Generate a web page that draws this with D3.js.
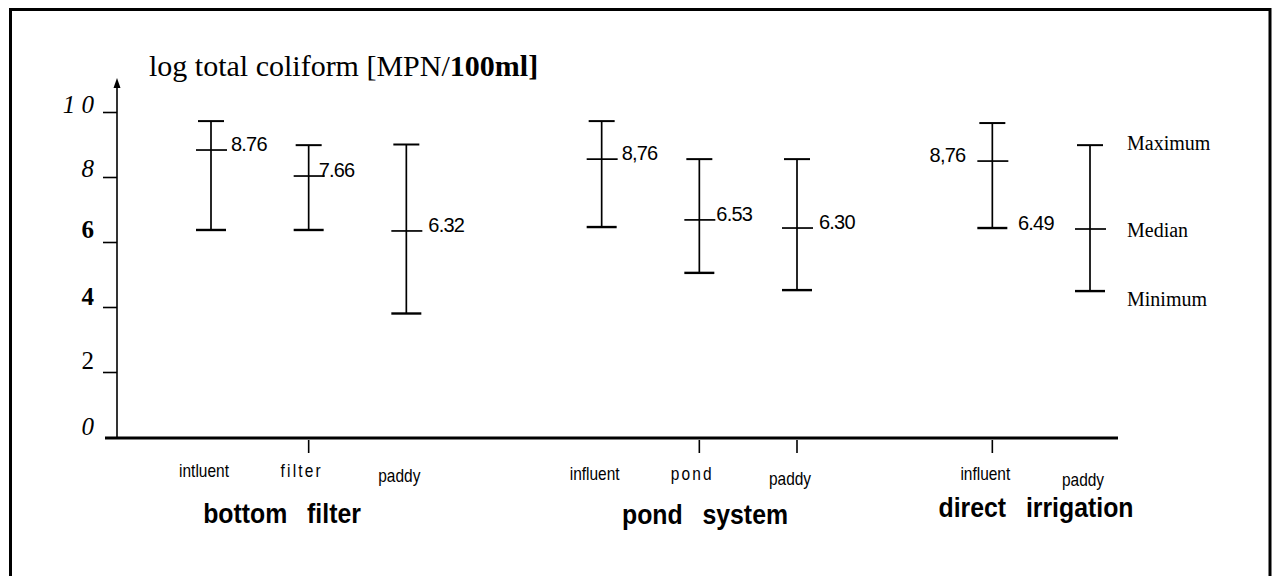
<!DOCTYPE html>
<html>
<head>
<meta charset="utf-8">
<script src="https://cdn.jsdelivr.net/npm/d3@7/dist/d3.min.js"></script>
<style>
  body { margin: 0; background: #fff; }
  svg  { display: block; }
</style>
</head>
<body>
<div id="chart"></div>
<script>
// groups and their sampling points
var groups     = ["bottom filter", "pond system", "direct irrigation"];
var categories = [["intluent", "filter", "paddy"], ["influent", "pond", "paddy"], ["influent", "paddy"]];

// log total coliform
var maxValues    = [9.72, 8.98, 9.00, 9.72, 8.55, 8.55, 9.66, 8.98];
var medianValues = [8.83, 8.03, 6.34, 8.55, 6.68, 6.43, 8.49, 6.40];
var minValues    = [6.37, 6.37, 3.80, 6.46, 5.05, 4.52, 6.43, 4.49];
var medianLabels = ["8.76", "7.66", "6.32", "8,76", "6.53", "6.30", "8,76", "6.49"];

var yTicks      = [0, 2, 4, 6, 8, 10];
var yTickLabels = ["0", "2", "4", "6", "8", "1 0"];
var legendItems = ["Maximum", "Median", "Minimum"];

var width  = 1273;
var height = 576;

// layout tweaks for the labels
var labelDx   = [20, 10, 22, 20, 17, 22, -27, -72];
var catDy     = [40, 40, 45, 43, 43, 48, 43, 49];
var groupX    = [282, 705, 1036];
var groupY    = [523, 524, 517];
var yLabelDy  = [-2, -3, -2, -4, 0, 1];
var legendDy  = [5, 8, 15];

var svg = d3.select("#chart").append("svg").attr("width", width).attr("height", height);

// frame (bottom edge runs off the page)
svg.append("path")
  .attr("d", "M10.5,580 V9.5 H1270 V580")
  .attr("fill", "none").attr("stroke", "#000").attr("stroke-width", 3);

// flatten the items, one slot gap between groups
var items = [];
categories.forEach(function (cats, g)
{
  cats.forEach(function (c, i)
  {
    items.push({ name: c, group: g, slot: g*4 + i });
  });
});
items.forEach(function (d, k)
{
  d.max    = maxValues[k];
  d.median = medianValues[k];
  d.min    = minValues[k];
  d.label  = medianLabels[k];
});

var x = d3.scaleLinear().domain([0, 9]).range([211, 1090]);
var y = d3.scaleLinear().domain([0, 10]).range([437, 112]);

// y axis with arrow head
svg.append("line")
  .attr("x1", 117).attr("x2", 117).attr("y1", y(0) + 2).attr("y2", 86)
  .attr("stroke", "#000").attr("stroke-width", 1.6);
svg.append("path").attr("d", "M113.5,88 L117,78 L120.5,88 Z").attr("fill", "#000");

var yAxis = d3.axisLeft(y).tickValues(yTicks.slice(1)).tickSize(14).tickFormat("");
svg.append("g").attr("transform", "translate(117,0)").call(yAxis)
  .call(function (g) { g.select(".domain").remove(); })
  .selectAll("line").attr("stroke-width", 1.6);

svg.selectAll(".ylab").data(yTicks).enter().append("text")
  .attr("class", "ylab")
  .attr("x", 94)
  .attr("y", function (d, i) { return y(d) + yLabelDy[i]; })
  .attr("text-anchor", "end")
  .attr("font-family", "Liberation Serif, serif")
  .attr("font-size", 25)
  .attr("font-style", function (d) { return (d == 0 || d >= 8) ? "italic" : "normal"; })
  .attr("font-weight", function (d) { return (d == 4 || d == 6) ? "bold" : "normal"; })
  .text(function (d, i) { return yTickLabels[i]; });

// title
var title = svg.append("text")
  .attr("x", 149).attr("y", 76)
  .attr("font-family", "Liberation Serif, serif")
  .attr("font-size", 30);
title.append("tspan").text("log total coliform [MPN/");
title.append("tspan").attr("font-weight", "bold").text("100ml]");

// x axis baseline
svg.append("line")
  .attr("x1", 105).attr("x2", 1118).attr("y1", y(0) + 1).attr("y2", y(0) + 1)
  .attr("stroke", "#000").attr("stroke-width", 3);

// small ticks under some of the categories
var tickedSlots = [1, 5, 6, 8];
svg.selectAll(".xtick").data(tickedSlots).enter().append("line")
  .attr("x1", function (d) { return x(d); }).attr("x2", function (d) { return x(d); })
  .attr("y1", y(0) + 3).attr("y2", y(0) + 16)
  .attr("stroke", "#000").attr("stroke-width", 1.6);

// category labels (narrow sans)
svg.selectAll(".cat").data(items).enter().append("text")
  .attr("class", "cat")
  .attr("transform", function (d, i) { return "translate(" + (x(d.slot) - 7) + "," + (y(0) + catDy[i]) + ") scale(0.86,1)"; })
  .attr("text-anchor", "middle")
  .attr("font-family", "Liberation Sans, sans-serif")
  .attr("font-size", 18)
  .attr("letter-spacing", function (d) { return (d.name == "filter" || d.name == "pond") ? 2.5 : 0; })
  .text(function (d) { return d.name; });

// group labels
svg.selectAll(".grp").data(groups).enter().append("text")
  .attr("class", "grp")
  .attr("transform", function (d, i) { return "translate(" + groupX[i] + "," + groupY[i] + ") scale(0.92,1)"; })
  .attr("text-anchor", "middle")
  .attr("font-family", "Liberation Sans, sans-serif")
  .attr("font-weight", "bold")
  .attr("font-size", 27)
  .attr("word-spacing", 14)
  .text(function (d) { return d; });

// error bars
var bars = svg.selectAll(".bar").data(items).enter().append("g")
  .attr("class", "bar")
  .attr("stroke", "#000")
  .attr("stroke-width", 1.7);

bars.append("line")
  .attr("x1", function (d) { return x(d.slot); }).attr("x2", function (d) { return x(d.slot); })
  .attr("y1", function (d) { return y(d.max); }).attr("y2", function (d) { return y(d.min); });
bars.append("line")
  .attr("x1", function (d) { return x(d.slot) - 13; }).attr("x2", function (d) { return x(d.slot) + 13; })
  .attr("y1", function (d) { return y(d.max); }).attr("y2", function (d) { return y(d.max); })
  .attr("stroke-width", 2);
bars.append("line")
  .attr("x1", function (d) { return x(d.slot) - 15; }).attr("x2", function (d) { return x(d.slot) + 15; })
  .attr("y1", function (d) { return y(d.min); }).attr("y2", function (d) { return y(d.min); })
  .attr("stroke-width", 2.4);
bars.append("line")
  .attr("x1", function (d) { return x(d.slot) - 15; }).attr("x2", function (d) { return x(d.slot) + 16; })
  .attr("y1", function (d) { return y(d.median); }).attr("y2", function (d) { return y(d.median); });

// median labels; the direct irrigation influent label sits on the left
svg.selectAll(".mlab").data(items).enter().append("text")
  .attr("class", "mlab")
  .attr("x", function (d, i) { return x(d.slot) + labelDx[i]; })
  .attr("y", function (d) { return y(d.median) + 1; })
  .attr("text-anchor", function (d, i) { return labelDx[i] == -27 ? "end" : "start"; })
  .attr("font-family", "Liberation Sans, sans-serif")
  .attr("font-size", 20)
  .attr("letter-spacing", -0.8)
  .text(function (d) { return d.label; });

// legend next to the last bar
var last = items[items.length - 1];
var legendValues = [last.max, last.median, last.min];
svg.selectAll(".leg").data(legendItems).enter().append("text")
  .attr("class", "leg")
  .attr("x", 1127)
  .attr("y", function (d, i) { return y(legendValues[i]) + legendDy[i]; })
  .attr("font-family", "Liberation Serif, serif")
  .attr("font-size", 20)
  .text(function (d) { return d; });
</script>
</body>
</html>
